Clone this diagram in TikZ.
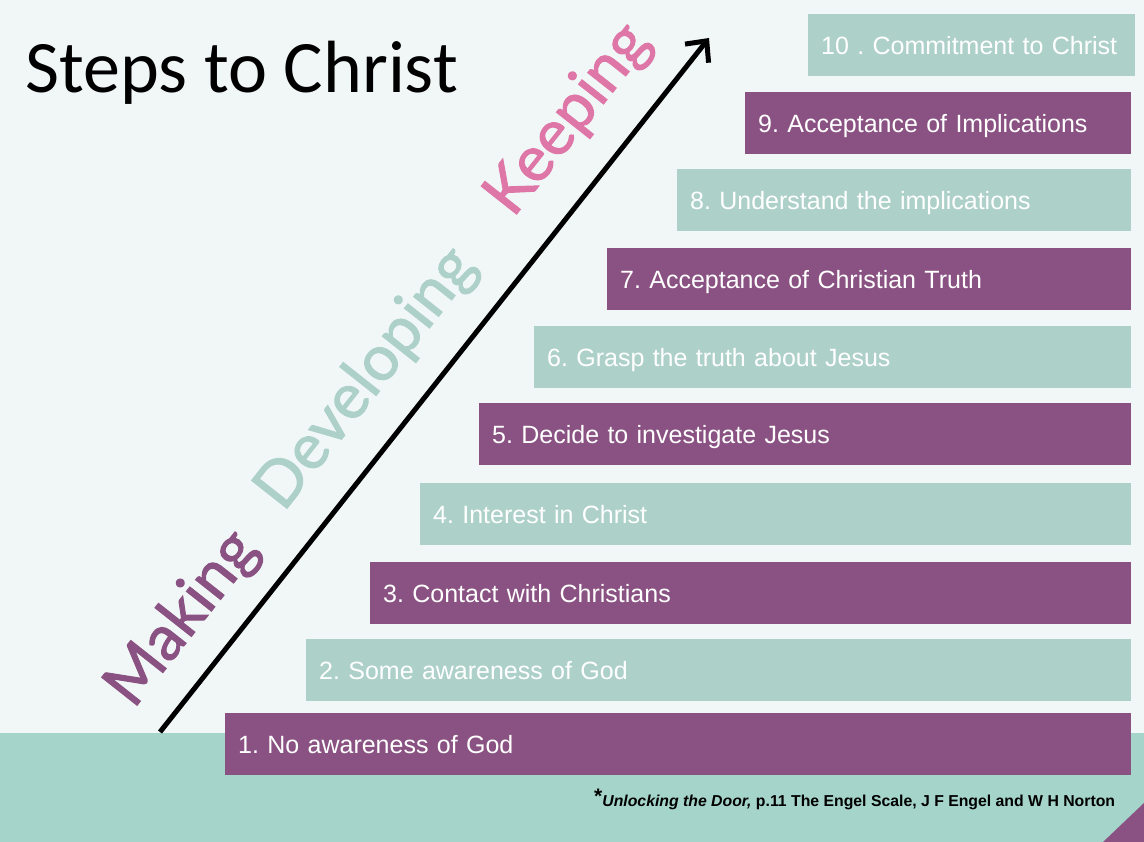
\documentclass[tikz,border=0pt]{standalone}
\usepackage{fontspec}
\setmainfont{Liberation Sans}
\newfontfamily\titlefont{Carlito}
\newfontfamily\wordfont[FakeBold=1.6]{Lato}
\usepackage{tikz}
\usetikzlibrary{arrows.meta, positioning}
\definecolor{bgcol}{HTML}{F1F7F7}
\definecolor{bandcol}{HTML}{A4D4CA}
\definecolor{plum}{HTML}{8A5282}
\definecolor{sage}{HTML}{ADD1C8}
\definecolor{rose}{HTML}{DE76A7}
\frenchspacing

\begin{document}
\begin{tikzpicture}[
    x=1pt, y=-1pt,
    stepbar/.style={
        anchor=north west,
        minimum height=62pt,
        inner xsep=13pt,
        inner ysep=0pt,
        text height=18pt,
        text depth=0pt,
        align=left,
        text=white,
        font=\fontsize{25}{29}\selectfont
    },
    plumbar/.style={stepbar, fill=plum},
    sagebar/.style={stepbar, fill=sage},
    stageword/.style={
        rotate=51.7,
        font=\wordfont\fontsize{63}{66}\selectfont
    }
]

% background and bottom band
\fill[bgcol] (0,0) rectangle (1144,842);
\fill[bandcol] (0,733) rectangle (1144,842);
\fill[plum] (1103,842) -- (1144,803) -- (1144,842) -- cycle;

% title
\node[anchor=base west, inner sep=0pt, font=\titlefont\fontsize{74}{80}\selectfont]
    (title) at (25,93) {Steps to Christ};

% ------------------------------------------------------------
% the ten steps
% ------------------------------------------------------------
\node[plumbar, text width=880pt] (s1) at (225,713) {1. No awareness of God};
\node[sagebar, text width=799pt] (s2) at (306,639) {2. Some awareness of God};
\node[plumbar, text width=735pt] (s3) at (370,562) {3. Contact with Christians};
\node[sagebar, text width=685pt] (s4) at (420,483) {4. Interest in Christ};
\node[plumbar, text width=626pt] (s5) at (479,403) {5. Decide to investigate Jesus};
\node[sagebar, text width=571pt] (s6) at (534,326) {6. Grasp the truth about Jesus};
\node[plumbar, text width=498pt] (s7) at (607,248) {7. Acceptance of Christian Truth};
\node[sagebar, text width=428pt] (s8) at (677,169) {8. Understand the implications};
\node[plumbar, text width=360pt] (s9) at (745,92) {9. Acceptance of Implications};
\node[sagebar, text width=301pt] (s10) at (808,14) {10 . Commitment to Christ};

% ------------------------------------------------------------
% rising arrow and the three stages
% ------------------------------------------------------------
\coordinate (rise0) at (160,732);
\coordinate (rise1) at (709,38);
\draw[line width=5pt, -{Straight Barb[length=16pt, width=30pt]}] (rise0) -- (rise1);

\node[stageword, text=plum] (making) at (183,619) {Making};
\node[stageword, text=sage] (developing) at (367,379) {Developing};
\node[stageword, text=rose] (keeping) at (569,120) {Keeping};

% source
\node[anchor=base west, inner sep=0pt, font=\bfseries\fontsize{15.8}{18}\selectfont]
    (source) at (594,806)
    {\raisebox{3pt}{\fontsize{21}{21}\selectfont*}\textit{Unlocking the Door,} p.11 The Engel Scale, J F Engel and W H Norton};

\end{tikzpicture}
\end{document}
